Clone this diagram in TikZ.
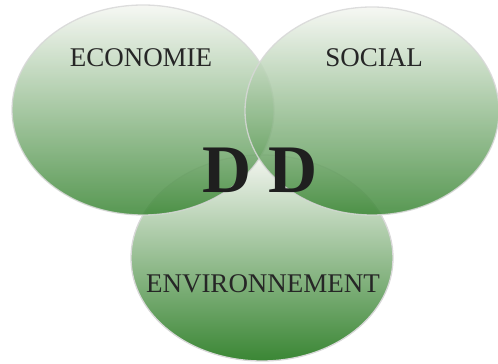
\documentclass[tikz,border=0pt]{standalone}
\usepackage{fontspec}
\setmainfont{Liberation Serif}
\usetikzlibrary{positioning}

\definecolor{vhaut}{RGB}{244,246,241}
\definecolor{vmilieu}{RGB}{162,186,146}
\definecolor{vbas}{RGB}{58,134,52}
\definecolor{bord}{RGB}{216,216,216}

\begin{document}
\begin{tikzpicture}[x=1pt,y=1pt,
  bulle/.style={draw=bord, line width=1.3pt, top color=vhaut, middle color=vmilieu, bottom color=vbas},
  titre/.style={font=\fontsize{27}{30}\selectfont, text=black!85}]

\useasboundingbox (0,0) rectangle (498,364);

% Ellipses
\draw[bulle] (262,106) ellipse [x radius=131, y radius=103];
\draw[bulle, opacity=0.85] (143,254) ellipse [x radius=131, y radius=105];
\draw[bulle, opacity=0.85] (372,253) ellipse [x radius=127, y radius=104];

% Labels
\node[titre] (eco) at (141,306) {ECONOMIE};
\node[titre] (soc) at (374,306) {SOCIAL};
\node[titre] (env) at (263,80) {ENVIRONNEMENT};
\node[font=\fontsize{68}{70}\selectfont\bfseries, text=black!88] (dd) at (260,194) {D D};

\end{tikzpicture}
\end{document}
